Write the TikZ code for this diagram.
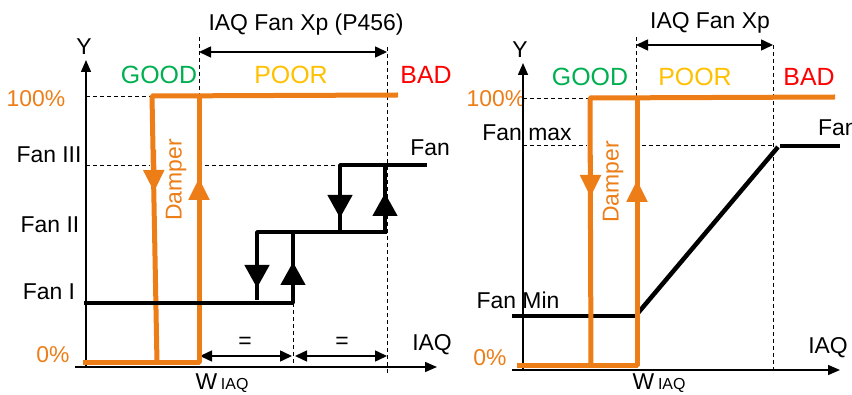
\documentclass[tikz,border=0pt]{standalone}
\usepackage{fontspec}
\setmainfont{Liberation Sans}
\usetikzlibrary{arrows.meta}
\definecolor{damperorange}{RGB}{237,125,23}
\definecolor{goodgreen}{RGB}{0,176,80}
\definecolor{pooryellow}{RGB}{255,192,0}
\definecolor{badred}{RGB}{255,0,0}
\begin{document}
\begin{tikzpicture}[>=latex,line join=bevel,
  txt/.style={font=\fontsize{23}{26}\selectfont,inner sep=0pt},
  zone/.style={font=\fontsize{25}{28}\selectfont,inner sep=0pt},
  axis/.style={line width=1.5bp,-{Triangle[length=12bp,width=10bp]}},
  guide/.style={line width=0.8bp,dash pattern=on 4bp off 3bp},
  dim/.style={line width=1.5bp,{Triangle[length=12bp,width=11bp]}-{Triangle[length=12bp,width=11bp]}},
  damperline/.style={draw=damperorange,line width=5bp},
  fanline/.style={draw=black,line width=4.5bp},
  bigtip/.style={line width=4.5bp,-{Triangle[length=23bp,width=24bp]}},
  dampertip/.style={damperorange,line width=5bp,-{Triangle[length=22bp,width=20bp]}},
  dampertxt/.style={txt,rotate=90,text=damperorange,fill=white,inner ysep=16bp,inner xsep=4bp},
]
\useasboundingbox (0bp,0bp) rectangle (852bp,395bp);
%%
%% left chart
  \coordinate (o_l) at (75bp,28bp);
  \coordinate (xend_l) at (437bp,28bp);
  \coordinate (y0_l) at (86bp,28bp);
  \coordinate (yend_l) at (86bp,335bp);
  \node (y_l) at (84bp,348bp) [txt] {Y};
  \node (iaq_l) at (432bp,50bp) [txt] {IAQ};
  \node (p0_l) at (53bp,40bp) [txt,text=damperorange] {0\%};
  \node (p100_l) at (36bp,296bp) [txt,text=damperorange] {100\%};
  \node (fan3) at (49bp,240bp) [txt] {Fan III};
  \node (fan2) at (50bp,170bp) [txt] {Fan II};
  \node (fan1) at (49bp,103bp) [txt] {Fan I};
  \node (w_l) at (222bp,12bp) [txt] {W\,{\fontsize{16}{18}\selectfont IAQ}};
  \node (xp_l) at (306bp,370bp) [txt] {IAQ Fan Xp (P456)};
  \node (good_l) at (159bp,320bp) [zone,text=goodgreen] {GOOD};
  \node (poor_l) at (291bp,320bp) [zone,text=pooryellow] {POOR};
  \node (bad_l) at (426bp,320bp) [zone,text=badred] {BAD};
  \node (fan_l) at (430bp,247bp) [txt] {Fan};
  \node (eq1) at (245bp,52bp) [txt] {=};
  \node (eq2) at (342bp,52bp) [txt] {=};
  % guides
  \coordinate (g100a_l) at (86bp,299bp);
  \coordinate (g100b_l) at (152bp,299bp);
  \coordinate (g3a) at (86bp,230bp);
  \coordinate (g3b) at (340bp,230bp);
  \coordinate (gv1a) at (199bp,358bp);
  \coordinate (gv1b) at (199bp,299bp);
  \coordinate (gv2a) at (387bp,348bp);
  \coordinate (gv2b) at (387bp,20bp);
  \coordinate (gv3a) at (293bp,92bp);
  \coordinate (gv3b) at (293bp,30bp);
  \draw [guide] (g100a_l) -- (g100b_l);
  \draw [guide] (g3a) -- (g3b);
  \draw [guide] (gv1a) -- (gv1b);
  \draw [guide] (gv2a) -- (gv2b);
  \draw [guide] (gv3a) -- (gv3b);
  \draw [dim] (199bp,343bp) coordinate (xpa_l) -- (387bp,343bp) coordinate (xpb_l);
  \draw [dim] (200bp,39bp) coordinate (d1a) -- (292bp,39bp) coordinate (d1b);
  \draw [dim] (295bp,39bp) coordinate (d2a) -- (387bp,39bp) coordinate (d2b);
  \draw [axis] (o_l) -- (xend_l);
  \draw [axis] (y0_l) -- (yend_l);
  % damper
  \node (damper_l) at (176bp,215bp) [dampertxt] {Damper};
  \coordinate (dtopr_l) at (398bp,300bp);
  \coordinate (dtopl_l) at (152bp,299bp);
  \coordinate (dbotl_l) at (157bp,32bp);
  \coordinate (dbot0_l) at (83bp,32bp);
  \coordinate (dbotr_l) at (199bp,32bp);
  \coordinate (dtop2_l) at (199bp,299bp);
  \draw [damperline] (dtopr_l) -- (dtopl_l) -- (dbotl_l);
  \draw [damperline] (dbot0_l) -- (dbotr_l) -- (dtop2_l);
  \draw [dampertip] (153.6bp,245bp) -- (154bp,203bp);
  \draw [dampertip] (199bp,170bp) -- (199bp,217bp);
  % fan steps
  \coordinate (f1a) at (84bp,92bp);
  \coordinate (f1b) at (293bp,92bp);
  \coordinate (f2a) at (293bp,163bp);
  \coordinate (f2l) at (257bp,163bp);
  \coordinate (f2r) at (387bp,163bp);
  \coordinate (f2d) at (257bp,95bp);
  \coordinate (f3l) at (340bp,230bp);
  \coordinate (f3r) at (427bp,230bp);
  \coordinate (f3d) at (340bp,163bp);
  \coordinate (f3u) at (385bp,163bp);
  \coordinate (f3ut) at (385bp,230bp);
  \draw [fanline] (f1a) -- (f1b) -- (f2a);
  \draw [fanline] (f2d) -- (f2l) -- (f2r);
  \draw [fanline] (f3d) -- (f3l) -- (f3r);
  \draw [fanline] (f3u) -- (f3ut);
  \draw [bigtip] (293bp,100bp) -- (293bp,133bp);
  \draw [bigtip] (257bp,150bp) -- (257bp,107bp);
  \draw [bigtip] (340bp,220bp) -- (340bp,177bp);
  \draw [bigtip] (385bp,170bp) -- (385bp,202bp);
%%
%% right chart
  \coordinate (o_r) at (512bp,25bp);
  \coordinate (xend_r) at (840bp,25bp);
  \coordinate (y0_r) at (523bp,25bp);
  \coordinate (yend_r) at (523bp,332bp);
  \node (y_r) at (520bp,345bp) [txt] {Y};
  \node (iaq_r) at (828bp,47bp) [txt] {IAQ};
  \node (p0_r) at (490bp,37bp) [txt,text=damperorange] {0\%};
  \node (p100_r) at (496bp,296bp) [txt,text=damperorange] {100\%};
  \node (fanmax) at (527bp,262bp) [txt] {Fan max};
  \node (fanmin) at (518bp,95bp) [txt] {Fan Min};
  \node (w_r) at (659bp,12bp) [txt] {W\,{\fontsize{16}{18}\selectfont IAQ}};
  \node (xp_r) at (710bp,372bp) [txt] {IAQ Fan Xp};
  \node (good_r) at (590bp,318bp) [zone,text=goodgreen] {GOOD};
  \node (poor_r) at (695bp,318bp) [zone,text=pooryellow] {POOR};
  \node (bad_r) at (809bp,318bp) [zone,text=badred] {BAD};
  \node (fan_r) at (818bp,267bp) [txt,anchor=west] {Fan};
  % guides
  \coordinate (g100a_r) at (523bp,297bp);
  \coordinate (g100b_r) at (590bp,297bp);
  \coordinate (gmaxa) at (523bp,250bp);
  \coordinate (gmaxb) at (775bp,250bp);
  \coordinate (gv4a) at (636bp,358bp);
  \coordinate (gv4b) at (636bp,297bp);
  \coordinate (gv5a) at (773bp,350bp);
  \coordinate (gv5b) at (773bp,23bp);
  \draw [guide] (g100a_r) -- (g100b_r);
  \draw [guide] (gmaxa) -- (gmaxb);
  \draw [guide] (gv4a) -- (gv4b);
  \draw [guide] (gv5a) -- (gv5b);
  \draw [dim] (636bp,350bp) coordinate (xpa_r) -- (773bp,350bp) coordinate (xpb_r);
  \draw [axis] (o_r) -- (xend_r);
  \draw [axis] (y0_r) -- (yend_r);
  % fan curve
  \coordinate (fm0) at (512bp,79bp);
  \coordinate (fm1) at (636bp,79bp);
  \coordinate (fm2) at (638bp,82bp);
  \coordinate (fx1) at (778bp,248bp);
  \coordinate (fx2) at (780bp,249bp);
  \coordinate (fx3) at (840bp,249bp);
  \draw [fanline] (fm0) -- (fm1);
  \draw [fanline] (fm2) -- (fx1);
  \draw [fanline] (fx2) -- (fx3);
  % damper
  \node (damper_r) at (613bp,213bp) [dampertxt] {Damper};
  \coordinate (dtopr_r) at (835bp,298bp);
  \coordinate (dtopl_r) at (590bp,297bp);
  \coordinate (dbotl_r) at (591bp,29bp);
  \coordinate (dbot0_r) at (517bp,29bp);
  \coordinate (dbotr_r) at (637bp,29bp);
  \coordinate (dtop2_r) at (637bp,297bp);
  \draw [damperline] (dtopr_r) -- (dtopl_r) -- (dbotl_r);
  \draw [damperline] (dbot0_r) -- (dbotr_r) -- (dtop2_r);
  \draw [dampertip] (590.5bp,240bp) -- (590.5bp,198bp);
  \draw [dampertip] (637bp,170bp) -- (637bp,215bp);
%
\end{tikzpicture}
\end{document}
